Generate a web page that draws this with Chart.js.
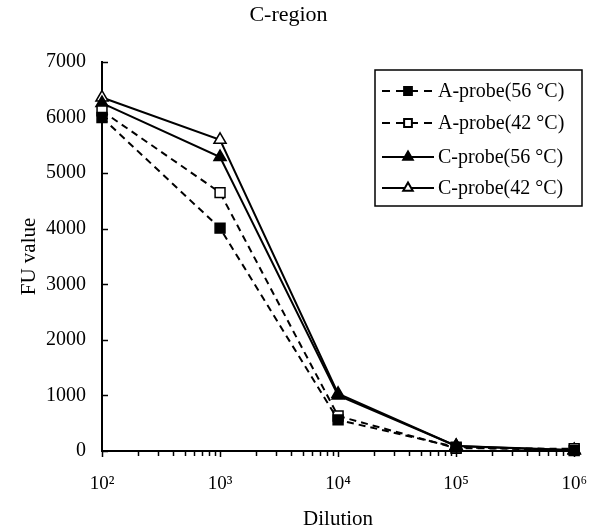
<!DOCTYPE html>
<html>
<head>
<meta charset="utf-8">
<script src="https://cdn.jsdelivr.net/npm/chart.js@4/dist/chart.umd.min.js"></script>
<style>
  html, body { margin: 0; padding: 0; background: #fff; }
  #wrap { position: relative; width: 609px; height: 532px; }
</style>
</head>
<body>
<div id="wrap"><canvas id="chart" width="609" height="532"></canvas></div>
<script>
'use strict';

const dilutions = [1e2, 1e3, 1e4, 1e5, 1e6];
const aProbe56 = [6000, 4010, 560, 70, 10];
const aProbe42 = [6120, 4650, 630, 50, 40];
const cProbe56 = [6260, 5290, 1000, 90, 10];
const cProbe42 = [6360, 5600, 1030, 90, 20];
const yTicks = [0, 1000, 2000, 3000, 4000, 5000, 6000, 7000];
const xLabels = { 100: '10²', 1000: '10³', 10000: '10⁴', 100000: '10⁵', 1000000: '10⁶' };

const SERIF = "'Liberation Serif', 'Times New Roman', serif";

function series(label, values, style, filled, dashed) {
  return {
    label,
    data: dilutions.map((x, i) => ({ x, y: values[i] })),
    borderColor: '#000',
    borderWidth: 2,
    borderDash: dashed ? [7, 5] : [],
    pointStyle: style,
    pointRadius: 7,
    pointBackgroundColor: filled ? '#000' : '#fff',
    pointBorderColor: '#000',
    pointBorderWidth: 1.5,
    tension: 0,
    clip: false,
  };
}

// axis ticks pointing inward (y) and downward (x), with log minor ticks
const axisTicks = {
  id: 'axisTicks',
  afterDatasetsDraw(chart) {
    const { ctx, scales: { x, y }, chartArea } = chart;
    ctx.save();
    ctx.strokeStyle = '#000';
    ctx.lineWidth = 1.5;
    for (const v of yTicks) {
      const py = Math.round(y.getPixelForValue(v)) + 0.5;
      ctx.beginPath();
      ctx.moveTo(chartArea.left, py);
      ctx.lineTo(chartArea.left + 6, py);
      ctx.stroke();
    }
    for (let d = 2; d <= 6; d++) {
      for (let k = 1; k <= 9; k++) {
        const v = k * Math.pow(10, d);
        if (v > 1e6) break;
        const px = Math.round(x.getPixelForValue(v)) + 0.5;
        ctx.beginPath();
        ctx.moveTo(px, chartArea.bottom);
        ctx.lineTo(px, chartArea.bottom + (k === 1 ? 6 : 5));
        ctx.stroke();
      }
    }
    ctx.restore();
  },
};

const boxLegend = {
  id: 'boxLegend',
  afterDraw(chart) {
    const { ctx } = chart;
    const left = 375, top = 70, w = 207, h = 136;
    ctx.save();
    ctx.strokeStyle = '#000';
    ctx.lineWidth = 1.5;
    ctx.strokeRect(left, top, w, h);
    ctx.font = '20px ' + SERIF;
    ctx.textBaseline = 'middle';
    ctx.fillStyle = '#000';
    const rows = [91, 123, 157, 188];
    chart.data.datasets.forEach((ds, i) => {
      const cy = rows[i];
      ctx.save();
      ctx.lineWidth = 2;
      ctx.setLineDash(ds.borderDash.length ? [8, 6] : []);
      ctx.beginPath();
      ctx.moveTo(382, cy);
      ctx.lineTo(434, cy);
      ctx.stroke();
      ctx.setLineDash([]);
      ctx.fillStyle = ds.pointBackgroundColor;
      ctx.strokeStyle = '#000';
      Chart.helpers.drawPoint(ctx, {
        pointStyle: ds.pointStyle, radius: 5.5, rotation: 0, borderWidth: 1.5,
      }, 408, cy);
      ctx.restore();
      ctx.fillText(ds.label, 438, cy + 1);
    });
    ctx.restore();
  },
};

new Chart(document.getElementById('chart'), {
  type: 'line',
  data: {
    datasets: [
      series('A-probe(56 °C)', aProbe56, 'rect', true, true),
      series('A-probe(42 °C)', aProbe42, 'rect', false, true),
      series('C-probe(56 °C)', cProbe56, 'triangle', true, false),
      series('C-probe(42 °C)', cProbe42, 'triangle', false, false),
    ],
  },
  options: {
    responsive: false,
    animation: false,
    layout: { padding: { left: 0, right: 32, top: 0, bottom: 0 } },
    plugins: {
      legend: { display: false },
      tooltip: { enabled: false },
      title: {
        display: true,
        text: 'C-region',
        color: '#000',
        font: { family: SERIF, size: 22, weight: 'normal', lineHeight: 1.2 },
        padding: { top: 2, bottom: 33.6 },
      },
    },
    scales: {
      x: {
        type: 'logarithmic',
        min: 100,
        max: 1e6,
        grid: { display: false, drawTicks: false, tickLength: 0 },
        border: { display: true, color: '#000', width: 2 },
        ticks: {
          autoSkip: false,
          maxRotation: 0,
          color: '#000',
          padding: 22,
          font: { family: SERIF, size: 19 },
          callback: v => xLabels[v] || '',
        },
        afterBuildTicks: s => { s.ticks = Object.keys(xLabels).map(v => ({ value: +v })); },
        afterFit: s => { s.height = 81; },
        title: {
          display: true,
          text: 'Dilution',
          color: '#000',
          font: { family: SERIF, size: 21 },
          padding: { top: 0, bottom: 0 },
        },
      },
      y: {
        min: 0,
        max: 7000,
        grid: { display: false, drawTicks: false, tickLength: 0 },
        border: { display: true, color: '#000', width: 2 },
        ticks: {
          stepSize: 1000,
          color: '#000',
          padding: 16,
          font: { family: SERIF, size: 20 },
          callback: v => String(v),
        },
        afterFit: s => { s.width = 102; },
        title: {
          display: true,
          text: 'FU value',
          color: '#000',
          font: { family: SERIF, size: 21 },
          padding: { top: 17, bottom: 0 },
        },
      },
    },
  },
  plugins: [axisTicks, boxLegend],
});
</script>
</body>
</html>
